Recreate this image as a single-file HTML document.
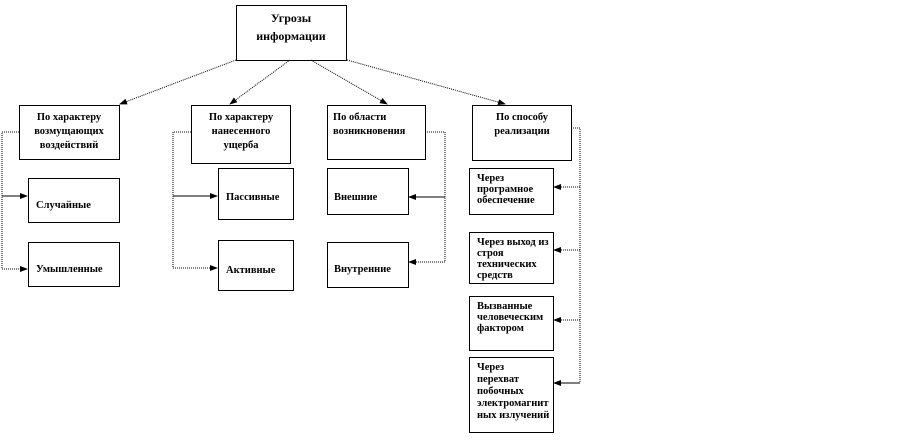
<!DOCTYPE html>
<html><head><meta charset="utf-8"><style>
body{margin:0;background:#fff;width:908px;height:435px;overflow:hidden}
svg text{font-family:"Liberation Serif",serif;font-weight:bold;font-size:10.5px;fill:#000}
</style></head><body>
<svg width="908" height="435" viewBox="0 0 908 435">
<defs><marker id="a" markerWidth="8" markerHeight="6" refX="7" refY="3" orient="auto" markerUnits="userSpaceOnUse"><path d="M0,0 L8,3 L0,6z" fill="#000"/></marker></defs>
<g fill="#fff" stroke="#000" stroke-width="1">
<rect x="236.5" y="5.5" width="110" height="55"/>
<rect x="19.5" y="105.5" width="100" height="54"/>
<rect x="191.5" y="105.5" width="99" height="58"/>
<rect x="327.5" y="105.5" width="98" height="54"/>
<rect x="472.5" y="105.5" width="99" height="55"/>
<rect x="28.5" y="178.5" width="91" height="44"/>
<rect x="28.5" y="242.5" width="91" height="44"/>
<rect x="218.5" y="168.5" width="75" height="51"/>
<rect x="218.5" y="240.5" width="75" height="50"/>
<rect x="327.5" y="168.5" width="81" height="46"/>
<rect x="327.5" y="242.5" width="81" height="45"/>
<rect x="469.5" y="168.5" width="84" height="46"/>
<rect x="469.5" y="232.5" width="84" height="51"/>
<rect x="469.5" y="296.5" width="84" height="54"/>
<rect x="469.5" y="357.5" width="84" height="75"/>
</g>
<g stroke="#000" stroke-width="1" fill="none" stroke-dasharray="1,1">
<line x1="236" y1="60" x2="120" y2="104" marker-end="url(#a)"/>
<line x1="290" y1="60" x2="230" y2="104" marker-end="url(#a)"/>
<line x1="311" y1="60" x2="387" y2="104" marker-end="url(#a)"/>
<line x1="347" y1="60" x2="505" y2="104" marker-end="url(#a)"/>
<polyline points="19,132 2,132 2,269 27,269" marker-end="url(#a)"/>
<polyline points="191,132 173,132 173,268 217,268" marker-end="url(#a)"/>
<polyline points="425,132 445,132 445,262"/>
<polyline points="445,262 409,262" marker-end="url(#a)"/>
<polyline points="571,128 580,128 580,383"/>
<line x1="580" y1="187" x2="554" y2="187" marker-end="url(#a)"/>
<line x1="580" y1="250" x2="554" y2="250" marker-end="url(#a)"/>
<line x1="580" y1="320" x2="554" y2="320" marker-end="url(#a)"/>
</g>
<g stroke="#000" stroke-width="1" fill="none">
<line x1="2" y1="196" x2="27" y2="196" marker-end="url(#a)"/>
<line x1="173" y1="196" x2="217" y2="196" marker-end="url(#a)"/>
<line x1="445" y1="197" x2="409" y2="197" marker-end="url(#a)"/>
<line x1="580" y1="383" x2="554" y2="383" marker-end="url(#a)"/>
</g>
<g text-anchor="middle">
<text x="291" y="22" style="font-size:12px">Угрозы</text><text x="291" y="40" style="font-size:12px">информации</text>
<text x="69" y="120">По характеру</text><text x="69" y="134">возмущающих</text><text x="69" y="148">воздействий</text>
<text x="241" y="120">По характеру</text><text x="241" y="134">нанесенного</text><text x="241" y="148">ущерба</text>
<text x="522" y="120">По способу</text><text x="522" y="134">реализации</text>
</g>
<text x="333" y="120">По области</text><text x="333" y="134">возникновения</text>
<text x="36" y="208">Случайные</text>
<text x="36" y="272">Умышленные</text>
<text x="226" y="200">Пассивные</text>
<text x="226" y="273">Активные</text>
<text x="334" y="200">Внешние</text>
<text x="334" y="272">Внутренние</text>
<g style="font-size:8px">
<text x="477" y="181">Через</text><text x="477" y="192">програмное</text><text x="477" y="203">обеспечение</text>
<text x="477" y="245">Через выход из</text><text x="477" y="256">строя</text><text x="477" y="267">технических</text><text x="477" y="278">средств</text>
<text x="477" y="309">Вызванные</text><text x="477" y="320">человеческим</text><text x="477" y="331">фактором</text>
<text x="477" y="370">Через</text><text x="477" y="382">перехват</text><text x="477" y="394">побочных</text><text x="477" y="406">электромагнит</text><text x="477" y="418">ных излучений</text>
</g>
</svg>
</body></html>
